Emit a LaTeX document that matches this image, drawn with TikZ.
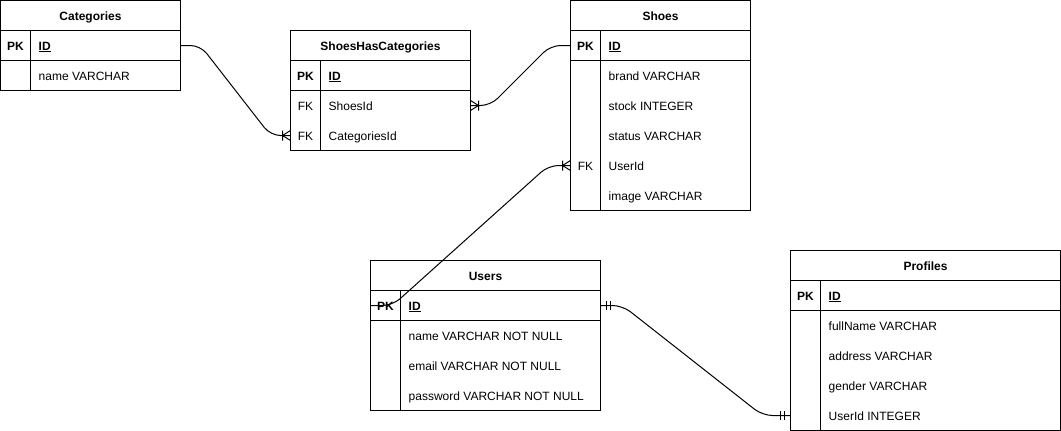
\documentclass[tikz,border=0pt]{standalone}
\usepackage{fontspec}
\setmainfont{Liberation Sans}
\usetikzlibrary{decorations.markings}

\newcommand{\tabfont}{\fontsize{12pt}{14pt}\selectfont}

\tikzstyle{tabline}=[draw, line width=1pt]
\tikzstyle{link}=[draw, line width=1pt, rounded corners=10pt]
\tikzstyle{tabhead}=[font=\tabfont\bfseries, inner sep=0pt, outer sep=0pt, minimum height=30pt, text height=10pt, text depth=1pt]
\tikzstyle{tabrow}=[inner sep=0pt, outer sep=0pt, minimum height=30pt]
\tikzstyle{keytext}=[font=\tabfont, inner sep=0pt, text height=10pt, text depth=1pt]
\tikzstyle{fieldtext}=[keytext, anchor=west]

\tikzset{
  crowend/.style={postaction={decorate, decoration={markings,
      mark=at position -8pt with {\draw[line width=1pt] (0,-5) -- (0,5) (0,0) -- (8,-5) (0,0) -- (8,5);}}}},
  onestart/.style={postaction={decorate, decoration={markings,
      mark=at position 6pt with {\draw[line width=1pt] (0,-4.5) -- (0,4.5);},
      mark=at position 10pt with {\draw[line width=1pt] (0,-4.5) -- (0,4.5);}}}},
  oneend/.style={postaction={decorate, decoration={markings,
      mark=at position -10pt with {\draw[line width=1pt] (0,-4.5) -- (0,4.5);},
      mark=at position -6pt with {\draw[line width=1pt] (0,-4.5) -- (0,4.5);}}}}
}

% #1 name, #2 left, #3 top, #4 width, #5 title, #6 rows key/field/id
\newcommand{\ertable}[6]{%
  % title bar and primary key row
  \node[tabhead, minimum width=#4] (#1) at ({#2+#4/2},{#3+15}) {#5};
  \node[tabrow, minimum width=#4] (#1-ID) at ({#2+#4/2},{#3+45}) {};
  \node[keytext] at ({#2+15},{#3+45}) {\bfseries PK};
  \node[fieldtext] at ({#2+38},{#3+45}) {\bfseries\underline{ID}};
  % the other rows
  \foreach \key/\field/\id [count=\i from 2] in {#6} {
    \node[tabrow, minimum width=#4] (#1-\id) at ({#2+#4/2},{#3+15+30*\i}) {};
    \node[keytext] at ({#2+15},{#3+15+30*\i}) {\key};
    \node[fieldtext] at ({#2+38},{#3+15+30*\i}) {\field};
    \xdef\lastrow{\i}
  }
  % frame, lines under title and key, key column
  \draw[tabline] (#2,#3) rectangle ({#2+#4},{#3+30+30*\lastrow})
    (#2,{#3+30}) -- ({#2+#4},{#3+30})
    (#2,{#3+60}) -- ({#2+#4},{#3+60})
    ({#2+30},{#3+30}) -- ({#2+30},{#3+30+30*\lastrow});
}

\begin{document}
\begin{tikzpicture}[x=1pt, y=-1pt]
  \fill[white] (0,0) rectangle (1061,431);
  \useasboundingbox (0,0) rectangle (1061,431);

  % The tables
  \ertable{cats}{0.5}{0.5}{180}{Categories}{/name VARCHAR/name}
  \ertable{shc}{290.5}{30.5}{180}{ShoesHasCategories}{FK/ShoesId/ShoesId, FK/CategoriesId/CategoriesId}
  \ertable{shoes}{570.5}{0.5}{180}{Shoes}{/brand VARCHAR/brand, /stock INTEGER/stock, /status VARCHAR/status, FK/UserId/UserId, /image VARCHAR/image}
  \ertable{users}{370.5}{260.5}{230}{Users}{/name VARCHAR NOT NULL/name, /email VARCHAR NOT NULL/email, /password VARCHAR NOT NULL/password}
  \ertable{profiles}{790.5}{250.5}{270}{Profiles}{/fullName VARCHAR/fullName, /address VARCHAR/address, /gender VARCHAR/gender, /UserId INTEGER/UserId}

  % The relations
  \path[link, crowend] (cats-ID.east) -- ++(20,0) -- ([xshift=-20pt]shc-CategoriesId.west) -- (shc-CategoriesId.west);
  \path[link, crowend] (shoes-ID.west) -- ++(-20,0) -- ([xshift=20pt]shc-ShoesId.east) -- (shc-ShoesId.east);
  \path[link, crowend] (users-ID.west) -- ++(22,0) -- ([xshift=-22pt]shoes-UserId.west) -- (shoes-UserId.west);
  \path[link, onestart, oneend] (users-ID.east) -- ++(22,0) -- ([xshift=-28pt]profiles-UserId.west) -- (profiles-UserId.west);
\end{tikzpicture}
\end{document}
